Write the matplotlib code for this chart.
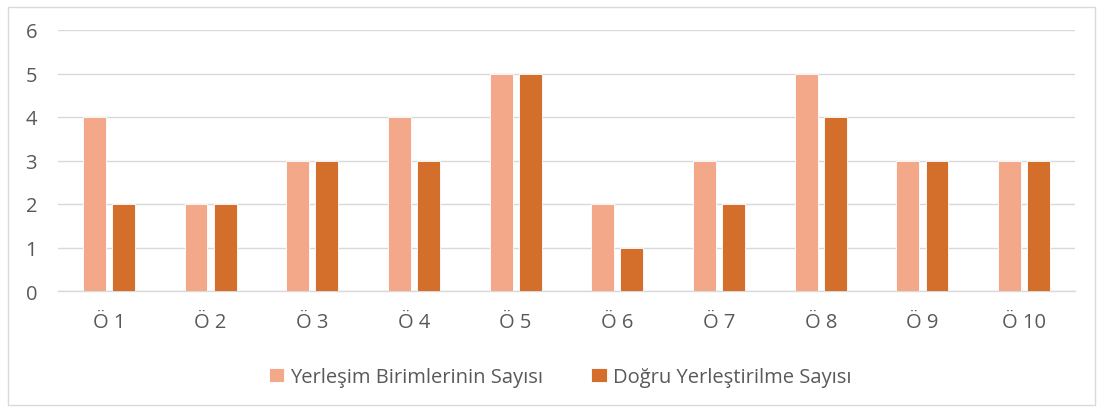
import matplotlib
matplotlib.use("Agg")
import matplotlib.pyplot as plt
import numpy as np
from matplotlib.patches import Rectangle

categories = ["Ö 1", "Ö 2", "Ö 3", "Ö 4", "Ö 5", "Ö 6", "Ö 7", "Ö 8", "Ö 9", "Ö 10"]
series_names = ["Yerleşim Birimlerinin Sayısı", "Doğru Yerleştirilme Sayısı"]
yerlesim = [4, 2, 3, 4, 5, 2, 3, 5, 3, 3]
dogru = [2, 2, 3, 3, 5, 1, 2, 4, 3, 3]
yticks = [0, 1, 2, 3, 4, 5, 6]

plt.rcParams['font.family'] = ['Open Sans', 'DejaVu Sans']
txt = "#595959"

W, H = 1103, 414
fig = plt.figure(figsize=(W/100, H/100), dpi=100)
fig.patches.append(Rectangle((8/W, 8/H), 1-16/W, 1-16/H, transform=fig.transFigure,
                             fill=False, edgecolor="#D9D9D9", linewidth=1))
ax = fig.add_axes([58/W, 1-292/H, (1075-58)/W, (292-31)/H])

x = np.arange(len(categories))
bw = 0.225
off = 0.143
ax.bar(x - off, yerlesim, bw, color="#F3A88A", edgecolor="white", linewidth=0.6, label=series_names[0], zorder=3)
ax.bar(x + off, dogru, bw, color="#D46F2B", edgecolor="white", linewidth=0.6, label=series_names[1], zorder=3)

ax.set_xlim(-0.5, len(categories) - 0.5)
ax.set_ylim(0, 6)
ax.set_yticks(yticks)
ax.set_xticks(x)
ax.set_xticklabels(categories)
ax.tick_params(axis='both', length=0, labelsize=14.5, colors=txt)
ax.tick_params(axis='x', pad=15)
ax.tick_params(axis='y', pad=15)
ax.grid(axis='y', color="#D9D9D9", linewidth=1, zorder=0)
for s in ["top", "right", "left"]:
    ax.spines[s].set_visible(False)
ax.spines["bottom"].set_color("#D9D9D9")
ax.spines["bottom"].set_linewidth(1)

leg = fig.legend(loc='center', bbox_to_anchor=(560/W, 1-378/H), ncol=2, frameon=False,
                 fontsize=14.5, handlelength=0.75, handleheight=0.75, columnspacing=2.4, handletextpad=0.3)
for t in leg.get_texts():
    t.set_color(txt)

fig.savefig("out.png", dpi=100)
